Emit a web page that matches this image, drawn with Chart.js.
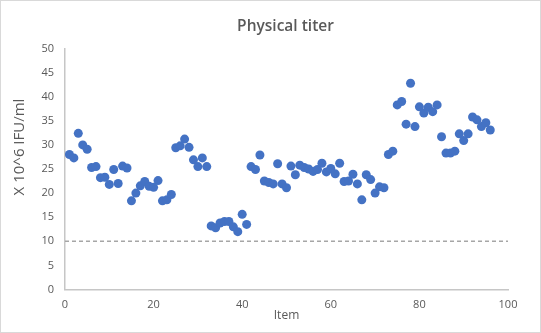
<!DOCTYPE html>
<html>
<head>
<meta charset="utf-8">
<script src="https://cdn.jsdelivr.net/npm/chart.js@4"></script>
<style>
  html, body { margin: 0; padding: 0; background: #ffffff; }
  #wrap { position: relative; width: 541px; height: 333px; }
  #frame { position: absolute; left: 0; top: 0; width: 541px; height: 333px; box-sizing: border-box; border: 1px solid #d9d9d9; pointer-events: none; }
  canvas { position: absolute; left: 0; top: 0; }
</style>
</head>
<body>
<div id="wrap">
  <canvas id="chart" width="541" height="333"></canvas>
  <div id="frame"></div>
</div>
<script>
// Item numbers along the x axis
const items = [
  1, 2, 3, 4, 5, 6, 7, 8, 9, 10,
  11, 12, 13, 14, 15, 16, 17, 18, 19, 20,
  21, 22, 23, 24, 25, 26, 27, 28, 29, 30,
  31, 32, 33, 34, 35, 36, 37, 38, 39, 40,
  41, 42, 43, 44, 45, 46, 47, 48, 49, 50,
  51, 52, 53, 54, 55, 56, 57, 58, 59, 60,
  61, 62, 63, 64, 65, 66, 67, 68, 69, 70,
  71, 72, 73, 74, 75, 76, 77, 78, 79, 80,
  81, 82, 83, 84, 85, 86, 87, 88, 89, 90,
  91, 92, 93, 94, 95, 96
];

// Physical titer per item (x 10^6 IFU/ml)
const titers = [
  28.0, 27.3, 32.4, 30.0, 29.1, 25.3, 25.5, 23.2, 23.3, 21.8,
  24.9, 22.0, 25.6, 25.2, 18.4, 20.0, 21.5, 22.4, 21.4, 21.2,
  22.6, 18.4, 18.6, 19.7, 29.4, 29.8, 31.2, 29.5, 26.9, 25.5,
  27.3, 25.5, 13.2, 12.8, 13.8, 14.1, 14.1, 13.0, 12.0, 15.6,
  13.5, 25.5, 24.9, 27.9, 22.5, 22.2, 21.9, 26.1, 21.9, 21.1,
  25.6, 23.8, 25.8, 25.3, 25.0, 24.5, 24.9, 26.2, 24.4, 25.1,
  24.0, 26.2, 22.4, 22.5, 23.9, 21.9, 18.6, 23.8, 22.8, 20.0,
  21.3, 21.1, 28.0, 28.7, 38.3, 39.0, 34.3, 42.8, 33.8, 37.9,
  36.6, 37.8, 36.9, 38.3, 31.7, 28.3, 28.3, 28.7, 32.3, 30.9,
  32.3, 35.8, 35.2, 33.8, 34.6, 33.1
];

// Reference limit drawn as a dashed horizontal line
const limitValue = 10;
const limitSpan = [0, 100];

const chartTitle = 'Physical titer';
const yAxisTitle = 'X 10^6 IFU/ml';

const textColor = '#595959';
const fontFamily = '"Open Sans", "Liberation Sans", sans-serif';

const points = items.map((x, i) => ({ x: x, y: titers[i] }));
const limitLine = limitSpan.map(x => ({ x: x, y: limitValue }));

// Chart title and vertical axis title, drawn as canvas text
const titlesPlugin = {
  id: 'titles',
  afterDraw(chart) {
    const ctx = chart.ctx;
    ctx.save();
    ctx.fillStyle = textColor;
    ctx.textAlign = 'center';
    ctx.textBaseline = 'middle';
    ctx.font = '600 15.5px ' + fontFamily;
    ctx.fillText(chartTitle, 285.5, 27);
    ctx.translate(20, 147);
    ctx.rotate(-Math.PI / 2);
    ctx.font = '15px ' + fontFamily;
    ctx.fillText(yAxisTitle, 0, 0);
    ctx.restore();
  }
};

new Chart(document.getElementById('chart'), {
  type: 'scatter',
  data: {
    datasets: [
      {
        label: 'Physical titer',
        data: points,
        backgroundColor: '#4472C4',
        borderWidth: 0,
        pointRadius: 4.5,
        pointHoverRadius: 4.5,
        order: 1
      },
      {
        label: 'Limit',
        type: 'line',
        data: limitLine,
        borderColor: '#a6a6a6',
        borderWidth: 1.5,
        borderDash: [4, 3],
        pointRadius: 0,
        fill: false,
        order: 2
      }
    ]
  },
  plugins: [titlesPlugin],
  options: {
    responsive: false,
    animation: false,
    layout: { padding: { left: 0, right: 33, top: 48.5, bottom: 0 } },
    plugins: {
      legend: { display: false },
      tooltip: { enabled: false },
      title: { display: false }
    },
    scales: {
      x: {
        type: 'linear',
        min: 0,
        max: 100,
        afterFit: (scale) => { scale.height = 43.5; },
        ticks: {
          stepSize: 20,
          color: textColor,
          font: { family: fontFamily, size: 11 },
          padding: 9,
          maxRotation: 0
        },
        grid: { display: true, color: 'rgba(0,0,0,0)', drawTicks: false },
        border: { display: true, color: '#c6c6c6', width: 1.5 },
        title: {
          display: true,
          text: 'Item',
          color: textColor,
          font: { family: fontFamily, size: 12 },
          padding: { top: 0, bottom: 10 }
        }
      },
      y: {
        type: 'linear',
        min: 0,
        max: 50,
        afterFit: (scale) => { scale.width = 65; },
        ticks: {
          stepSize: 5,
          color: textColor,
          font: { family: fontFamily, size: 11 },
          padding: 11
        },
        grid: { display: true, color: 'rgba(0,0,0,0)', drawTicks: false },
        border: { display: true, color: '#c6c6c6', width: 1.5 }
      }
    }
  }
});
</script>
</body>
</html>
